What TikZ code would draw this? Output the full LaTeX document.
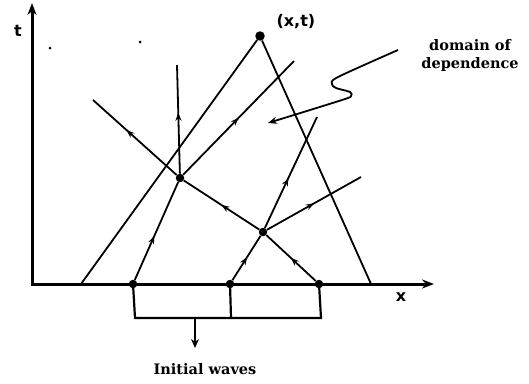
\documentclass[tikz,border=0pt]{standalone}
\usepackage{fontspec}
\setmainfont{DejaVu Serif}
\setsansfont{DejaVu Sans}
\usetikzlibrary{arrows.meta,decorations.markings}

\begin{document}
\begin{tikzpicture}[
  x=1pt, y=-1pt,
  axis/.style = {line width=3pt, {Stealth[length=12pt,width=9pt]}-{Stealth[length=12pt,width=9pt]}},
  edge/.style = {line width=1.8pt},
  ray/.style  = {edge, postaction={decorate},
                 decoration={markings,
                   mark=at position #1 with {\arrow{Stealth[length=8pt,width=6pt]}}}},
  dot/.style  = {circle, fill, inner sep=0pt, minimum size=8.5pt},
  speck/.style = {circle, fill, inner sep=0pt, minimum size=3pt},
  lbl/.style  = {font=\sffamily\bfseries\fontsize{16}{18}\selectfont},
  caption/.style = {font=\bfseries\fontsize{14.5}{18}\selectfont, align=center}
]
  \useasboundingbox (0,0) rectangle (529,383);

  % Axes
  \coordinate (O) at (32,284);
  \coordinate (tend) at (32,3);
  \coordinate (xend) at (434,284);
  \draw[axis] (tend) -- (O) -- (xend);
  \node[lbl] (tlab) at (18,31)   {t};
  \node[lbl] (xlab) at (401,297) {x};
  \node[speck] (s1) at (50,48) {};
  \node[speck] (s2) at (140,42) {};

  % Initial points and crossings
  \node[dot] (A) at (133,284) {};
  \node[dot] (B) at (230,284) {};
  \node[dot] (C) at (319,284) {};
  \node[dot] (P) at (180,178) {};
  \node[dot] (Q) at (263,232) {};
  \node[dot, minimum size=9.5pt] (X) at (260,36) {};
  \node[lbl, anchor=west] (xt) at (273,22) {(x,t)};

  % Domain of dependence
  \coordinate (L0) at (81,284);
  \coordinate (R0) at (371,284);
  \draw[edge] (L0) -- (X) -- (R0);

  % Characteristics
  \coordinate (Pup) at (177,65);
  \coordinate (Pur) at (294,61);
  \coordinate (Pul) at (93,100);
  \coordinate (Qup) at (317,117);
  \coordinate (Qr)  at (361,177);
  \draw[ray=0.45] (A) -- (P);
  \draw[ray=0.56] (P) -- (Pup);
  \draw[ray=0.5]  (P) -- (Pur);
  \draw[ray=0.6]  (P) -- (Pul);
  \draw[ray=0.5]  (C) -- (Q);
  \draw[ray=0.5]  (Q) -- (P);
  \draw[ray=0.52] (B) -- (Q);
  \draw[ray=0.45] (Q) -- (Qup);
  \draw[ray=0.5]  (Q) -- (Qr);

  % Initial data box
  \coordinate (Ab) at (135,318);
  \coordinate (Bb) at (231,318);
  \coordinate (Cb) at (321,318);
  \draw[edge, line width=2.2pt] (A.center) -- (Ab) -- (Cb) -- (C.center);
  \draw[edge, line width=2.2pt] (B.center) -- (Bb);
  \coordinate (W0) at (195,318);
  \coordinate (W1) at (195,348);
  \draw[edge, -{Stealth[length=9pt,width=8pt]}] (W0) -- (W1);
  \node[caption] (init) at (205,369) {Initial waves};

  % Label with wavy pointer
  \node[caption] (dom) at (470,55) {domain of\\dependence};
  \draw[edge, -{Stealth[length=9pt,width=7pt]}] plot[smooth, tension=0.5]
    coordinates {(398,50) (338,77) (332,84) (336,88) (350,92) (351,96) (342,100) (268,123)};

\end{tikzpicture}
\end{document}
